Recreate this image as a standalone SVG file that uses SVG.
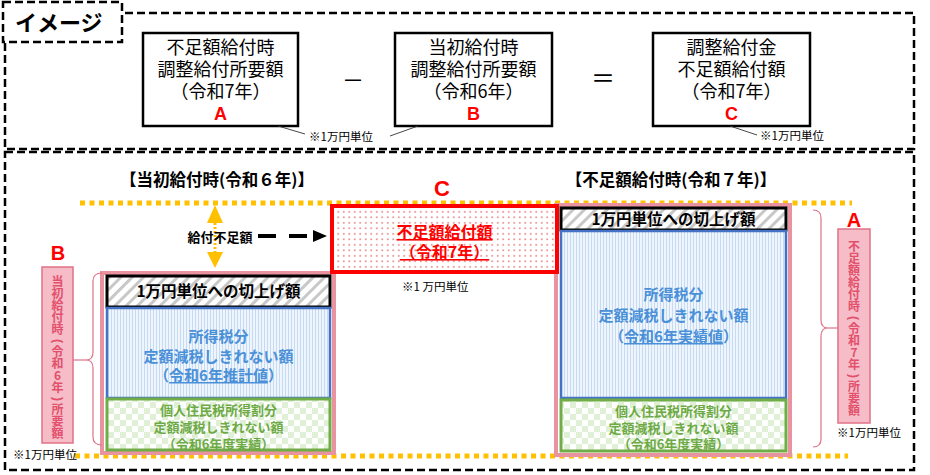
<svg xmlns="http://www.w3.org/2000/svg" width="930" height="475" viewBox="0 0 930 475">
<defs>
<style>
.jp{font-family:"Noto Sans CJK JP","Noto Sans CJK SC",sans-serif}
.lat{font-family:"Liberation Sans",Arial,sans-serif}
.frame{fill:none;stroke:#000;stroke-width:2.5;stroke-dasharray:8 4}
.tbox{fill:#fff;stroke:#000;stroke-width:2.5}
.ttxt{font-size:18px;text-anchor:middle;fill:#000}
.letter{font-size:18px;font-weight:bold;fill:#FF0000;text-anchor:middle}
.note{font-size:11.5px;fill:#000}
.thin{fill:none;stroke:#333;stroke-width:0.9}
.dotY{fill:none;stroke:#FFC000;stroke-width:5;stroke-dasharray:5 4.5}
.big{fill:#fff;stroke:#E8939F;stroke-width:4}
.hatch{fill:url(#hatch);stroke:#000;stroke-width:3}
.blue{fill:url(#stripes);stroke:#4472C4;stroke-width:2.5}
.green{fill:url(#checker);stroke:#70AD47;stroke-width:3}
.btxt{font-size:15px;font-weight:bold;fill:#4A90D9;text-anchor:middle}
.gtxt{font-size:13px;font-weight:bold;fill:#6DAA45;text-anchor:middle}
.ktxt{font-size:15.5px;font-weight:bold;fill:#000;text-anchor:middle}
.plabel{fill:#F6BCC8;stroke:#E07286;stroke-width:1.5}
.pc{font-size:12px;font-weight:bold;fill:#E2506B;text-anchor:middle}
.brace{fill:none;stroke:#E07286;stroke-width:1.2}
.head{font-size:16.5px;font-weight:bold;fill:#000;text-anchor:middle}
</style>
<pattern id="hatch" patternUnits="userSpaceOnUse" width="8" height="8" patternTransform="rotate(45)">
<rect width="8" height="8" fill="#fff"/>
<rect x="0" y="0" width="3" height="8" fill="#C8C8C8"/>
</pattern>
<pattern id="stripes" patternUnits="userSpaceOnUse" width="3" height="10">
<rect width="3" height="10" fill="#EEF5FC"/>
<rect x="0" y="0" width="1" height="10" fill="#C6DBF1"/>
</pattern>
<pattern id="checker" patternUnits="userSpaceOnUse" width="12" height="12">
<rect width="12" height="12" fill="#fff"/>
<rect x="0" y="0" width="6" height="6" fill="#E0F0D6"/>
<rect x="6" y="6" width="6" height="6" fill="#E0F0D6"/>
</pattern>
<pattern id="rdots" patternUnits="userSpaceOnUse" width="5.5" height="5.5">
<rect width="5.5" height="5.5" fill="#fff"/>
<circle cx="2.75" cy="2.75" r="0.8" fill="#D84040"/>
</pattern>
</defs>

<rect width="930" height="475" fill="#fff"/>

<g id="frames">
<rect class="frame" x="5" y="13" width="909" height="136"/>
<rect class="frame" x="5" y="152" width="909" height="318"/>
<rect x="3" y="2" width="119" height="40" fill="#fff" stroke="#000" stroke-width="2.5" stroke-dasharray="8 4"/>
<text class="jp" x="15" y="31" font-size="22" font-weight="bold" fill="#000">イメージ</text>
</g>

<g id="boxA">
<rect class="tbox" x="143" y="33" width="155" height="93"/>
<text class="jp ttxt" x="220.5" y="54">不足額給付時</text>
<text class="jp ttxt" x="220.5" y="76">調整給付所要額</text>
<text class="jp ttxt" x="220.5" y="98">（令和7年）</text>
<text class="lat letter" x="220.5" y="120">A</text>
</g>
<g id="boxB">
<rect class="tbox" x="395" y="33" width="157" height="93"/>
<text class="jp ttxt" x="473.5" y="54">当初給付時</text>
<text class="jp ttxt" x="473.5" y="76">調整給付所要額</text>
<text class="jp ttxt" x="473.5" y="98">（令和6年）</text>
<text class="lat letter" x="473.5" y="120">B</text>
</g>
<g id="boxC">
<rect class="tbox" x="653" y="33" width="157" height="93"/>
<text class="jp ttxt" x="731.5" y="54">調整給付金</text>
<text class="jp ttxt" x="731.5" y="76">不足額給付額</text>
<text class="jp ttxt" x="731.5" y="98">（令和7年）</text>
<text class="lat letter" x="731.5" y="120">C</text>
</g>
<g id="operators">
<text class="jp" x="353" y="88" font-size="22" text-anchor="middle">－</text>
<text class="jp" x="603" y="87" font-size="24" text-anchor="middle">＝</text>
</g>
<g id="notesTop">
<text class="jp note" x="309" y="141">※1万円単位</text>
<text class="jp note" x="760" y="140">※1万円単位</text>
</g>

<g id="headings">
<text class="jp head" x="217" y="186">【当初給付時(令和６年)】</text>
<text class="jp head" x="671" y="186">【不足額給付時(令和７年)】</text>
</g>

<g id="guides">
<line class="dotY" x1="80" y1="203" x2="852" y2="203"/>
<line class="dotY" x1="75" y1="456" x2="848" y2="456"/>
</g>

<g id="leftStack">
<rect class="big" x="102" y="273" width="232" height="180"/>
<rect class="hatch" x="107" y="276" width="223" height="31"/>
<text class="jp ktxt" x="218.5" y="297">1万円単位への切上げ額</text>
<rect class="blue" x="107" y="308" width="223" height="90"/>
<text class="jp btxt" x="218.5" y="342">所得税分</text>
<text class="jp btxt" x="218.5" y="362">定額減税しきれない額</text>
<text class="jp btxt" x="218.5" y="381">（<tspan text-decoration="underline">令和6年推計値</tspan>）</text>
<rect class="green" x="107" y="399" width="223" height="51"/>
<text class="jp gtxt" x="218.5" y="415">個人住民税所得割分</text>
<text class="jp gtxt" x="218.5" y="432">定額減税しきれない額</text>
<text class="jp gtxt" x="218.5" y="449">（令和6年度実績）</text>
</g>

<g id="rightStack">
<rect class="big" x="556" y="205" width="234" height="250"/>
<rect class="hatch" x="561" y="208" width="225" height="22"/>
<text class="jp ktxt" x="673.5" y="225">1万円単位への切上げ額</text>
<rect class="blue" x="561" y="231" width="225" height="167"/>
<text class="jp btxt" x="673.5" y="300">所得税分</text>
<text class="jp btxt" x="673.5" y="321">定額減税しきれない額</text>
<text class="jp btxt" x="673.5" y="342">（<tspan text-decoration="underline">令和6年実績値</tspan>）</text>
<rect class="green" x="561" y="400" width="225" height="51"/>
<text class="jp gtxt" x="673.5" y="416">個人住民税所得割分</text>
<text class="jp gtxt" x="673.5" y="433">定額減税しきれない額</text>
<text class="jp gtxt" x="673.5" y="449">（令和6年度実績）</text>
</g>

<g id="shortfallC">
<rect x="332" y="206" width="225" height="66" fill="url(#rdots)" stroke="#FF0000" stroke-width="4"/>
<text class="jp" x="444.5" y="238" font-size="16" font-weight="bold" fill="#FF0000" text-anchor="middle" text-decoration="underline">不足額給付額</text>
<text class="jp" x="444.5" y="258" font-size="16" font-weight="bold" fill="#FF0000" text-anchor="middle" text-decoration="underline">（令和7年）</text>
<text class="lat" x="442" y="196" font-size="22" font-weight="bold" fill="#FF0000" text-anchor="middle">C</text>
<text class="jp note" x="402" y="291" font-size="12">※1 万円単位</text>
</g>

<g id="labelB">
<text class="lat" x="58" y="260" font-size="20" font-weight="bold" fill="#FF0000" text-anchor="middle">B</text>
<rect class="plabel" x="42" y="267" width="31" height="176"/>
<text class="jp pc" x="57.5" y="286.3">当</text>
<text class="jp pc" x="57.5" y="298.3">初</text>
<text class="jp pc" x="57.5" y="310.3">給</text>
<text class="jp pc" x="57.5" y="322.3">付</text>
<text class="jp pc" x="57.5" y="334.3">時</text>
<text class="lat pc" x="57.5" y="345" transform="rotate(90 57.5 341)">(</text>
<text class="jp pc" x="57.5" y="356.3">令</text>
<text class="jp pc" x="57.5" y="368.3">和</text>
<text class="jp pc" x="57.5" y="380.3">6</text>
<text class="jp pc" x="57.5" y="392.3">年</text>
<text class="lat pc" x="57.5" y="403" transform="rotate(90 57.5 399)">)</text>
<text class="jp pc" x="57.5" y="414.3">所</text>
<text class="jp pc" x="57.5" y="426.3">要</text>
<text class="jp pc" x="57.5" y="438.3">額</text>
<text class="jp note" x="13" y="459">※1万円単位</text>
</g>

<g id="labelA">
<text class="lat" x="854" y="227" font-size="20" font-weight="bold" fill="#FF0000" text-anchor="middle">A</text>
<rect class="plabel" x="838" y="229" width="32" height="194"/>
<text class="jp pc" x="854" y="251.3">不</text>
<text class="jp pc" x="854" y="263.3">足</text>
<text class="jp pc" x="854" y="275.3">額</text>
<text class="jp pc" x="854" y="287.3">給</text>
<text class="jp pc" x="854" y="299.3">付</text>
<text class="jp pc" x="854" y="311.3">時</text>
<text class="lat pc" x="854" y="322" transform="rotate(90 854 318)">(</text>
<text class="jp pc" x="854" y="333.3">令</text>
<text class="jp pc" x="854" y="345.3">和</text>
<text class="jp pc" x="854" y="357.3">7</text>
<text class="jp pc" x="854" y="369.3">年</text>
<text class="lat pc" x="854" y="380" transform="rotate(90 854 376)">)</text>
<text class="jp pc" x="854" y="391.3">所</text>
<text class="jp pc" x="854" y="403.3">要</text>
<text class="jp pc" x="854" y="415.3">額</text>
<text class="jp note" x="837" y="437">※1万円単位</text>
</g>

<g id="connectors">
<line class="thin" x1="278" y1="126" x2="305" y2="134"/>
<line class="thin" x1="390" y1="136" x2="418" y2="126"/>
<line class="thin" x1="730" y1="126" x2="757" y2="135"/>
<polygon points="215,205 207,223 223,223" fill="#FFC000"/>
<line x1="215" y1="223" x2="215" y2="252" stroke="#FFC000" stroke-width="3" stroke-dasharray="2 2"/>
<polygon points="207,252 223,252 215,268" fill="#FFC000"/>
<text class="jp" x="220" y="242" font-size="13" font-weight="bold" fill="#000" text-anchor="middle">給付不足額</text>
<line x1="258" y1="236" x2="311" y2="236" stroke="#000" stroke-width="4" stroke-dasharray="18 13"/>
<polygon points="313,230 327,236 313,242" fill="#000"/>
<path class="brace" d="M102,273 Q93,273 93,281 L93,352 Q93,360 86,360 Q93,360 93,368 L93,437 Q93,445 102,445"/>
<line class="brace" x1="86" y1="360" x2="73" y2="360"/>
<path class="brace" d="M813,210 Q821,210 821,218 L821,320 Q821,328 828,328 Q821,328 821,336 L821,439 Q821,447 813,447"/>
<line class="brace" x1="828" y1="328" x2="838" y2="328"/>
</g>
</svg>
